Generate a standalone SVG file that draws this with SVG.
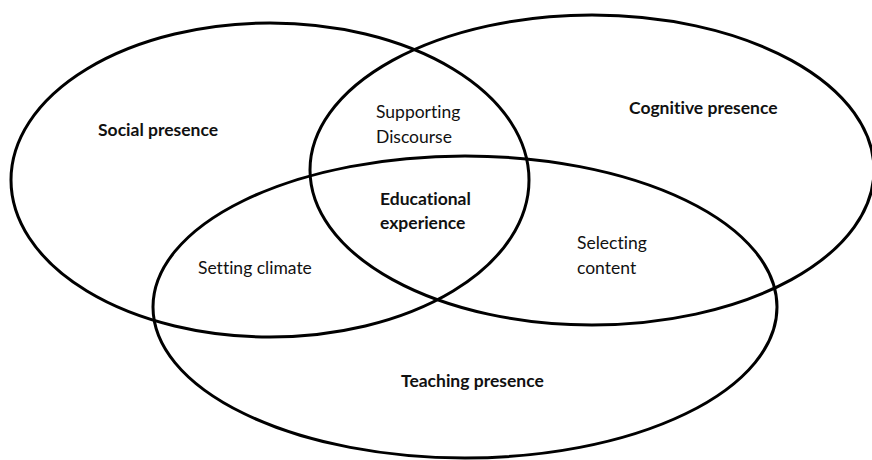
<svg xmlns="http://www.w3.org/2000/svg" width="872" height="460" viewBox="0 0 872 460">
<style>
.c{fill:none;stroke:#000;stroke-width:3}
text{font-family:Lato,"Open Sans","Liberation Sans",sans-serif;font-size:17.5px;fill:#111;font-variant-ligatures:none;font-feature-settings:"liga" 0,"dlig" 0}
.b{font-weight:bold}
</style>
<rect width="872" height="460" fill="#fff"/>
<g id="social">
<ellipse class="c" cx="270" cy="180" rx="259" ry="157"/>
<text class="b" x="98" y="136">Social presence</text>
</g>
<g id="cognitive">
<ellipse class="c" cx="592" cy="170" rx="282" ry="155"/>
<text class="b" x="629" y="114">Cognitive presence</text>
</g>
<g id="teaching">
<ellipse class="c" cx="465" cy="307" rx="312" ry="151"/>
<text class="b" x="401" y="387">Teaching presence</text>
</g>
<g id="supporting">
<text x="376" y="118">Supporting</text>
<text x="376" y="143">Discourse</text>
</g>
<g id="educational">
<text class="b" x="380" y="205">Educational</text>
<text class="b" x="380" y="229">experience</text>
</g>
<g id="setting">
<text x="198" y="274">Setting climate</text>
</g>
<g id="selecting">
<text x="577" y="249">Selecting</text>
<text x="577" y="274">content</text>
</g>
<g id="connectors"></g>
</svg>
